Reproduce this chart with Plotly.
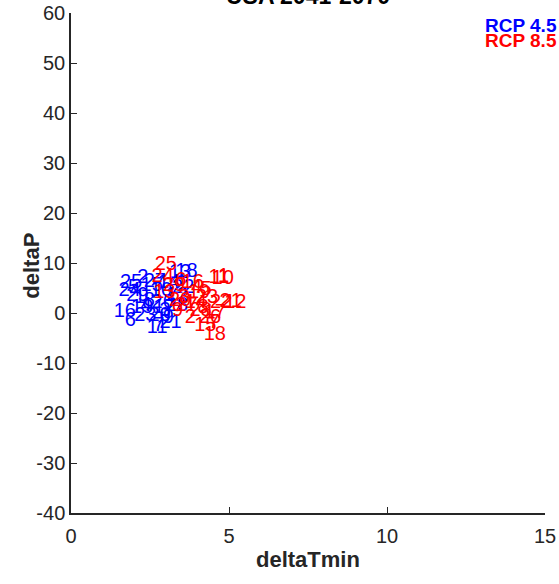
import plotly.graph_objects as go

# Model numbers and their (deltaTmin, deltaP) changes for USA, 2041-2070
models = [str(i) for i in range(1, 30)]

rcp45_dtmin = [2.0, 2.1, 2.8, 2.2, 1.8, 1.7, 2.6, 2.3, 2.9, 2.5,
               2.4, 3.0, 3.1, 2.75, 2.2, 1.35, 2.6, 3.3, 1.9, 2.45,
               2.8, 3.2, 2.0, 1.5, 1.55, 2.55, 2.3, 3.0, 1.75]
rcp45_dp = [3.0, 7.0, 0.5, 1.5, 5.0, -1.5, -2.5, 2.5, -1.0, 4.5,
            -3.0, 3.5, 8.0, 6.0, 5.5, 0.2, 1.0, 8.2, 1.0, -0.5,
            -2.0, 5.0, -0.5, 4.5, 6.0, 2.0, 6.3, 1.5, 3.5]

rcp85_dtmin = [4.65, 3.6, 3.4, 3.8, 4.1, 3.3, 4.35, 4.0, 3.2, 4.45,
               4.35, 4.85, 2.6, 3.6, 3.9, 3.5, 4.2, 4.2, 3.7, 3.1,
               4.7, 4.4, 3.95, 2.55, 2.65, 4.05, 3.3, 3.75, 2.9]
rcp85_dp = [7.2, -1.0, 3.0, 5.0, 4.6, 6.5, -2.0, 1.0, 0.5, 6.8,
            7.0, 2.0, 4.0, 2.0, -2.5, 6.0, 0.0, -4.4, 4.0, 2.5,
            2.2, 2.0, 3.0, 7.3, 9.7, -1.0, 1.5, 0.5, 5.5]

x_ticks = [0, 5, 10, 15]
y_ticks = [-40, -30, -20, -10, 0, 10, 20, 30, 40, 50, 60]

FONT = "Liberation Sans, Arial, sans-serif"
AXIS_COLOR = "#262626"

fig = go.Figure()

fig.add_trace(go.Scatter(
    x=rcp45_dtmin, y=rcp45_dp, text=models, mode="text",
    textposition="middle right",
    textfont=dict(family=FONT, size=20, color="#0000ff"),
    name="RCP 4.5", showlegend=False, cliponaxis=False,
))
fig.add_trace(go.Scatter(
    x=rcp85_dtmin, y=rcp85_dp, text=models, mode="text",
    textposition="middle right",
    textfont=dict(family=FONT, size=20, color="#ff0000"),
    name="RCP 8.5", showlegend=False, cliponaxis=False,
))

# Scenario key in the upper-right corner
for i, (label, color) in enumerate([("RCP 4.5", "#0000ff"), ("RCP 8.5", "#ff0000")]):
    fig.add_annotation(
        xref="paper", yref="paper", x=1.03, y=0.976 - i * 0.030,
        xanchor="right", yanchor="middle", showarrow=False,
        text=f"<b>{label}</b>",
        font=dict(family=FONT, size=19, color=color),
    )

# Axis titles
fig.add_annotation(
    xref="paper", yref="paper", x=0.50, y=-0.092,
    xanchor="center", yanchor="middle", showarrow=False,
    text="<b>deltaTmin</b>", font=dict(family=FONT, size=22, color=AXIS_COLOR),
)
fig.add_annotation(
    xref="paper", yref="paper", x=-0.084, y=0.495, textangle=-90,
    xanchor="center", yanchor="middle", showarrow=False,
    text="<b>deltaP</b>", font=dict(family=FONT, size=22, color=AXIS_COLOR),
)

axis_common = dict(
    showgrid=False, zeroline=False, showline=True, linecolor=AXIS_COLOR,
    linewidth=1.5, ticks="inside", ticklen=6, tickwidth=1.2, tickcolor=AXIS_COLOR,
    tickfont=dict(family=FONT, size=20, color=AXIS_COLOR),
    mirror=False, automargin=False,
)

fig.update_xaxes(
    range=[0, 15], tickvals=x_ticks, ticktext=[str(v) for v in x_ticks],
    ticklabelstandoff=4, **axis_common,
)
fig.update_yaxes(
    range=[-40, 60], tickvals=y_ticks, ticktext=[str(v) for v in y_ticks],
    **axis_common,
)

fig.update_layout(
    width=559, height=584,
    margin=dict(l=71, r=14, t=13, b=71, autoexpand=False),
    paper_bgcolor="white", plot_bgcolor="white",
    title=dict(text="<b>USA 2041-2070</b>", x=0.551, xanchor="center",
               y=0.993, yanchor="bottom", yref="container", automargin=False,
               font=dict(family=FONT, size=23, color="#000000")),
)

fig.write_html("out.html")
